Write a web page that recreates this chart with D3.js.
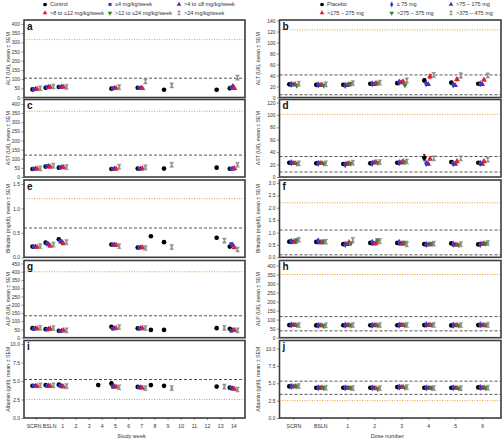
<!DOCTYPE html>
<html><head><meta charset="utf-8">
<script src="https://cdn.jsdelivr.net/npm/d3@7"></script>
<style>
body{margin:0;background:#fff;}
svg{display:block;font-family:"Liberation Sans",Arial,sans-serif;}
</style>
</head><body>
<svg id="c" width="504" height="439"></svg>
<script>
const _ = null;
// ---------- categories & series ----------
const weekCats = ["SCRN","BSLN","1","2","3","4","5","6","7","8","9","10","11","12","13","14"];
const doseCats = ["SCRN","BSLN","1","2","3","4","5","6"];
const weekSeries = ["Control","≤4 mg/kg/week",">4 to ≤8 mg/kg/week",">8 to ≤12 mg/kg/week",">12 to ≤24 mg/kg/week",">24 mg/kg/week"];
const doseSeries = ["Placebo","≤ 75 mg",">75 – 175 mg",">175 – 275 mg",">275 – 375 mg",">375 – 475 mg"];
const seriesColors = ["#000000","#3040d0","#5b2a9e","#e0202a","#2a8a2a","#8f8f8f"];

// ---------- left column (study week) ----------
const altWeekMean = [
  [44,53,57,_,_,_,48,_,53,_,42,_,_,_,42,50],
  [45,57,58,_,_,_,50,_,52,_,_,_,_,_,_,55],
  [45,56,58,_,_,_,50,_,51,_,_,_,_,_,_,60],
  [46,55,57,_,_,_,50,_,50,_,_,_,_,_,_,50],
  [_,_,_,_,_,_,_,_,_,_,_,_,_,_,_,_],
  [50,60,58,_,_,_,56,_,88,_,66,_,_,_,_,108]];
const altWeekSem = [
  [1,2,2,_,_,_,2,_,2,_,2,_,_,_,2,3],
  [1,2,2,_,_,_,2,_,2,_,_,_,_,_,_,4],
  [1,2,2,_,_,_,2,_,2,_,_,_,_,_,_,6],
  [1,2,2,_,_,_,2,_,2,_,_,_,_,_,_,3],
  [_,_,_,_,_,_,_,_,_,_,_,_,_,_,_,_],
  [2,2,2,_,_,_,3,_,9,_,4,_,_,_,_,11]];
const astWeekMean = [
  [44,57,51,_,_,_,44,_,46,_,46,_,_,_,51,45],
  [45,60,53,_,_,_,45,_,45,_,_,_,_,_,_,46],
  [45,58,53,_,_,_,44,_,45,_,_,_,_,_,_,44],
  [45,55,52,_,_,_,45,_,46,_,_,_,_,_,_,47],
  [_,_,_,_,_,_,_,_,_,_,_,_,_,_,_,_],
  [47,62,54,_,_,_,57,_,53,_,67,_,_,_,_,67]];
const astWeekSem = [
  [1,2,2,_,_,_,2,_,2,_,2,_,_,_,2,2],
  [1,2,2,_,_,_,2,_,2,_,_,_,_,_,_,2],
  [1,2,2,_,_,_,2,_,2,_,_,_,_,_,_,2],
  [1,2,2,_,_,_,2,_,2,_,_,_,_,_,_,2],
  [_,_,_,_,_,_,_,_,_,_,_,_,_,_,_,_],
  [2,2,2,_,_,_,3,_,3,_,6,_,_,_,_,5]];
const biliWeekMean = [
  [0.22,0.30,0.37,_,_,_,0.26,_,0.20,0.43,0.31,_,_,_,0.40,0.22],
  [0.22,0.28,0.33,_,_,_,0.26,_,0.20,_,_,_,_,_,_,0.27],
  [0.21,0.26,0.31,_,_,_,0.25,_,0.20,_,_,_,_,_,_,0.24],
  [0.21,0.23,0.28,_,_,_,0.25,_,0.20,_,_,_,_,_,_,0.20],
  [_,_,_,_,_,_,_,_,_,_,_,_,_,_,_,_],
  [0.23,0.26,0.31,_,_,_,0.23,_,0.19,_,0.21,_,_,_,0.34,0.16]];
const biliWeekSem = [
  [0.01,0.01,0.02,_,_,_,0.01,_,0.01,0.02,0.02,_,_,_,0.02,0.01],
  [0.01,0.01,0.02,_,_,_,0.01,_,0.01,_,_,_,_,_,_,0.02],
  [0.01,0.01,0.02,_,_,_,0.01,_,0.01,_,_,_,_,_,_,0.02],
  [0.01,0.01,0.02,_,_,_,0.01,_,0.01,_,_,_,_,_,_,0.02],
  [_,_,_,_,_,_,_,_,_,_,_,_,_,_,_,_],
  [0.01,0.01,0.02,_,_,_,0.01,_,0.01,_,0.02,_,_,_,0.02,0.02]];
const alpWeekMean = [
  [58,52,42,_,_,_,66,_,57,47,47,_,_,_,58,54],
  [53,50,40,_,_,_,55,_,55,_,_,_,_,_,_,42],
  [55,52,42,_,_,_,55,_,56,_,_,_,_,_,_,45],
  [55,53,45,_,_,_,57,_,57,_,_,_,_,_,_,46],
  [_,_,_,_,_,_,_,_,_,_,_,_,_,_,_,_],
  [60,58,45,_,_,_,65,_,58,_,_,_,_,_,60,44]];
const alpWeekSem = [
  [2,2,2,_,_,_,2,_,2,2,2,_,_,_,3,2],
  [2,2,2,_,_,_,2,_,2,_,_,_,_,_,_,3],
  [2,2,2,_,_,_,2,_,2,_,_,_,_,_,_,3],
  [2,2,2,_,_,_,2,_,2,_,_,_,_,_,_,3],
  [_,_,_,_,_,_,_,_,_,_,_,_,_,_,_,_],
  [2,2,2,_,_,_,2,_,2,_,_,_,_,_,4,3]];
const albWeekMean = [
  [4.35,4.45,4.5,_,_,4.45,4.65,_,4.2,4.45,4.35,_,_,_,4.25,4.1],
  [4.35,4.35,4.35,_,_,_,4.25,_,4.15,_,_,_,_,_,_,4.05],
  [4.3,4.35,4.3,_,_,_,4.2,_,4.1,_,_,_,_,_,_,3.95],
  [4.3,4.3,4.2,_,_,_,4.2,_,4.05,_,_,_,_,_,_,3.9],
  [_,_,_,_,_,_,_,_,_,_,_,_,_,_,_,_],
  [4.4,4.4,4.3,_,_,_,4.15,_,4.05,_,4.05,_,_,_,4.25,3.85]];
const albWeekSem = [
  [0.05,0.05,0.05,_,_,0.05,0.3,_,0.05,0.05,0.05,_,_,_,0.05,0.05],
  [0.05,0.05,0.05,_,_,_,0.05,_,0.05,_,_,_,_,_,_,0.05],
  [0.05,0.05,0.05,_,_,_,0.05,_,0.05,_,_,_,_,_,_,0.05],
  [0.05,0.05,0.05,_,_,_,0.05,_,0.05,_,_,_,_,_,_,0.05],
  [_,_,_,_,_,_,_,_,_,_,_,_,_,_,_,_],
  [0.05,0.05,0.05,_,_,_,0.05,_,0.05,_,0.08,_,_,_,0.08,0.05]];

// ---------- right column (dose number) ----------
const altDoseMean = [
  [24,23,23,25,26,31,27,25],
  [24,23,22,25,28,25,23,25],
  [23,22,22,24,27,24,22,24],
  [24,23,24,26,29,38,33,32],
  [22,22,25,26,23,_,_,_],
  [25,24,26,27,31,41,40,40]];
const altDoseSem = [
  [1,1,1,1,1,3,2,1],
  [1,1,1,1,1,1,1,1],
  [1,1,1,1,1,1,1,1],
  [1,1,1,1,2,4,3,2],
  [1,1,1,1,1,_,_,_],
  [1,1,1,1,2,4,5,4]];
const astDoseMean = [
  [23,22,21,22,23,31,24,23],
  [23,22,20,22,23,22,22,22],
  [22,22,21,23,23,21,21,21],
  [22,22,22,24,25,29,25,25],
  [22,22,22,23,24,_,_,_],
  [22,22,23,24,25,30,30,28]];
const astDoseSem = [
  [1,1,1,1,1,5,1,1],
  [1,1,1,1,1,1,1,1],
  [1,1,1,1,1,1,1,1],
  [1,1,1,1,1,2,2,2],
  [1,1,1,1,1,_,_,_],
  [1,1,1,1,2,2,3,3]];
const biliDoseMean = [
  [0.63,0.62,0.53,0.58,0.58,0.53,0.56,0.52],
  [0.64,0.66,0.52,0.60,0.60,0.52,0.53,0.52],
  [0.62,0.60,0.52,0.55,0.55,0.50,0.50,0.53],
  [0.62,0.60,0.60,0.58,0.55,0.52,0.50,0.55],
  [0.70,0.65,0.57,0.70,0.60,0.55,0.50,0.56],
  [0.70,0.63,0.70,0.65,0.52,0.55,0.53,0.58]];
const biliDoseSem = [
  [0.02,0.02,0.02,0.02,0.02,0.02,0.02,0.02],
  [0.02,0.04,0.02,0.02,0.02,0.02,0.02,0.02],
  [0.02,0.02,0.02,0.02,0.02,0.02,0.02,0.02],
  [0.02,0.02,0.03,0.02,0.02,0.02,0.02,0.02],
  [0.03,0.03,0.03,0.03,0.03,0.03,0.03,0.03],
  [0.03,0.03,0.04,0.03,0.03,0.03,0.03,0.03]];
const alpDoseMean = [
  [70,68,69,69,69,70,68,70],
  [71,68,70,69,70,72,70,72],
  [69,67,68,68,69,69,67,68],
  [70,67,70,70,70,71,70,70],
  [71,66,69,69,70,72,68,71],
  [70,68,70,70,71,71,70,71]];
const alpDoseSem = [
  [2,2,2,2,2,2,2,2],[2,2,2,2,2,2,2,2],[2,2,2,2,2,2,2,2],
  [2,2,2,2,2,2,2,2],[2,2,2,2,2,2,2,2],[2,2,2,2,2,2,2,2]];
const albDoseMean = [
  [4.55,4.35,4.35,4.35,4.45,4.35,4.35,4.4],
  [4.55,4.35,4.35,4.35,4.45,4.35,4.35,4.4],
  [4.5,4.3,4.3,4.3,4.4,4.3,4.3,4.3],
  [4.55,4.35,4.3,4.25,4.45,4.3,4.3,4.35],
  [4.6,4.35,4.35,4.2,4.4,4.35,4.3,4.35],
  [4.6,4.35,4.3,4.3,4.45,4.3,4.3,4.35]];
const albDoseSem = [
  [0.05,0.05,0.05,0.05,0.05,0.05,0.05,0.05],[0.05,0.05,0.05,0.05,0.05,0.05,0.05,0.05],
  [0.05,0.05,0.05,0.05,0.05,0.05,0.05,0.05],[0.05,0.05,0.05,0.05,0.05,0.05,0.05,0.05],
  [0.05,0.05,0.05,0.05,0.05,0.05,0.05,0.05],[0.05,0.05,0.05,0.05,0.05,0.05,0.05,0.05]];

// ---------- axis ticks & reference lines ----------
const altWeekTicks = [0,50,100,150,200,250,300,350,400];
const astWeekTicks = [0,50,100,150,200,250,300,350,400];
const biliWeekTicks = [0,0.5,1.0,1.5];
const alpWeekTicks = [0,50,100,150,200,250,300,350,400,450];
const albWeekTicks = [0,2.5,5.0,7.5,10.0];
const altDoseTicks = [0,20,40,60,80,100,120,140];
const astDoseTicks = [0,20,40,60,80,100,120];
const biliDoseTicks = [0,0.5,1.0,1.5,2.0,2.5,3.0];
const alpDoseTicks = [0,50,100,150,200,250,300,350,400];
const albDoseTicks = [0,2.5,5.0,7.5,10.0];

// dashed = normal range limits, dotted = alert threshold
const altWeekRefs = {dashed:[105], dotted:[315]};
const astWeekRefs = {dashed:[120], dotted:[360]};
const biliWeekRefs = {dashed:[0.6], dotted:[1.2]};
const alpWeekRefs = {dashed:[133], dotted:[400]};
const albWeekRefs = {dashed:[5.2], dotted:[2.5]};
const altDoseRefs = {dashed:[41,5], dotted:[123]};
const astDoseRefs = {dashed:[33,8], dotted:[101]};
const biliDoseRefs = {dashed:[1.1,0.1], dotted:[2.2]};
const alpDoseRefs = {dashed:[117,38], dotted:[350]};
const albDoseRefs = {dashed:[5.3,3.4], dotted:[2.5]};

// ---------- drawing ----------
const svg = d3.select("#c");
const FRAME = "#3d3d3d";
const weekShapes = ["circle","square","tri","tri","triDown","hour"];
const doseShapes = ["circle","diamond","tri","tri","triDown","hour"];

function marker(sel, shape, color){
  if (shape === "hour") {
    sel.append("path").attr("d","M-2,-2.6H2L-2,2.6H2Z").attr("fill",color).attr("stroke",color).attr("stroke-width",0.4);
    return;
  }
  const map = {circle:[d3.symbolCircle,17], square:[d3.symbolSquare,15], tri:[d3.symbolTriangle,15],
               triDown:[d3.symbolTriangle,15], diamond:[d3.symbolDiamond,15]};
  const [t,s] = map[shape];
  const p = sel.append("path").attr("d", d3.symbol().type(t).size(s)()).attr("fill", color);
  if (shape === "triDown") p.attr("transform","rotate(180)");
}

const rowTops = [20, 99.5, 180, 260.5, 340.5];
const rowBottoms = [97.5, 177, 257.3, 337.7, 418];

const columns = [
  {cats:weekCats, series:weekSeries, shapes:weekShapes, fx0:24, fx1:245, px0:36, px1:233.3, offs:[-3.5,4.2], titleX:8, firstDx:-2.5,
   panels:[
    {m:altWeekMean,s:altWeekSem,t:altWeekTicks,r:altWeekRefs,pad:4,f:d3.format("d"),L:"a",T:"ALT (U/l), mean ± SEM"},
    {m:astWeekMean,s:astWeekSem,t:astWeekTicks,r:astWeekRefs,pad:4.5,f:d3.format("d"),L:"c",T:"AST (U/l), mean ± SEM"},
    {m:biliWeekMean,s:biliWeekSem,t:biliWeekTicks,r:biliWeekRefs,pad:4,f:d3.format(".1f"),L:"e",T:"Bilirubin (mg/dl), mean ± SEM"},
    {m:alpWeekMean,s:alpWeekSem,t:alpWeekTicks,r:alpWeekRefs,pad:3,f:d3.format("d"),L:"g",T:"ALP (U/l), mean ± SEM"},
    {m:albWeekMean,s:albWeekSem,t:albWeekTicks,r:albWeekRefs,pad:3.5,f:d3.format(".1f"),L:"i",T:"Albumin (g/dl), mean ± SEM"}],
   xTitle:"Study week"},
  {cats:doseCats, series:doseSeries, shapes:doseShapes, fx0:279.5, fx1:501, px0:293.3, px1:482.3, offs:[-4,5.5], titleX:258, firstDx:0,
   panels:[
    {m:altDoseMean,s:altDoseSem,t:altDoseTicks,r:altDoseRefs,pad:0.5,f:d3.format("d"),L:"b",T:"ALT (U/l), mean ± SEM"},
    {m:astDoseMean,s:astDoseSem,t:astDoseTicks,r:astDoseRefs,pad:3,f:d3.format("d"),L:"d",T:"AST (U/l), mean ± SEM"},
    {m:biliDoseMean,s:biliDoseSem,t:biliDoseTicks,r:biliDoseRefs,pad:3,f:d3.format(".1f"),L:"f",T:"Bilirubin (mg/dl), mean ± SEM"},
    {m:alpDoseMean,s:alpDoseSem,t:alpDoseTicks,r:alpDoseRefs,pad:5,f:d3.format("d"),L:"h",T:"ALP (U/l), mean ± SEM"},
    {m:albDoseMean,s:albDoseSem,t:albDoseTicks,r:albDoseRefs,pad:8,f:d3.format(".1f"),L:"j",T:"Albumin (g/dl), mean ± SEM"}],
   xTitle:"Dose number"}
];

columns.forEach(col => {
  const x = d3.scalePoint().domain(col.cats).range([col.px0, col.px1]);
  const off = d3.scalePoint().domain(d3.range(col.series.length)).range(col.offs);
  col.panels.forEach((p, i) => {
    const top = rowTops[i], bot = rowBottoms[i];
    const y = d3.scaleLinear().domain([0, d3.max(p.t)]).range([bot, top + p.pad]);
    const g = svg.append("g");
    g.append("rect").attr("x",col.fx0).attr("y",top).attr("width",col.fx1-col.fx0).attr("height",bot-top)
      .attr("fill","#fff");
    // reference lines
    p.r.dashed.forEach(v => g.append("line").attr("x1",col.fx0).attr("x2",col.fx1).attr("y1",y(v)).attr("y2",y(v))
      .attr("stroke","#555").attr("stroke-width",1).attr("stroke-dasharray","3,2"));
    p.r.dotted.forEach(v => g.append("line").attr("x1",col.fx0).attr("x2",col.fx1).attr("y1",y(v)).attr("y2",y(v))
      .attr("stroke","#e89a3c").attr("stroke-width",1).attr("stroke-dasharray","1,1.5"));
    // points with error bars
    p.m.forEach((arr, si) => {
      const color = seriesColors[si];
      arr.forEach((v, ci) => {
        if (v === null) return;
        const cx = x(col.cats[ci]) + off(si);
        const sem = p.s[si][ci];
        if (sem) {
          const y1 = y(v - sem), y2 = y(v + sem);
          g.append("path").attr("d",`M${cx},${y1}V${y2}M${cx-1.3},${y1}H${cx+1.3}M${cx-1.3},${y2}H${cx+1.3}`)
            .attr("stroke",color).attr("stroke-width",0.8).attr("fill","none");
        }
        const mg = g.append("g").attr("transform",`translate(${cx},${y(v)})`);
        marker(mg, col.shapes[si], color);
      });
    });
    // frame
    g.append("rect").attr("x",col.fx0).attr("y",top).attr("width",col.fx1-col.fx0).attr("height",bot-top)
      .attr("fill","none").attr("stroke",FRAME).attr("stroke-width",1.6);
    // y axis
    const ax = g.append("g").attr("transform",`translate(${col.fx0},0)`)
      .call(d3.axisLeft(y).tickValues(p.t).tickFormat(p.f).tickSize(2.5).tickPadding(1.5));
    ax.select(".domain").remove();
    ax.selectAll("line").attr("stroke","#444").attr("stroke-width",0.6);
    ax.selectAll("text").attr("font-size",5).attr("fill","#333").attr("font-family",null);
    // panel letter
    g.append("text").attr("x",col.fx0+3).attr("y",top+9.5).attr("font-size",10).attr("font-weight","bold")
      .attr("fill","#111").text(p.L);
    // y title
    g.append("text").attr("transform",`translate(${col.titleX},${(top+bot)/2}) rotate(-90)`)
      .attr("text-anchor","middle").attr("dy","0.35em").attr("font-size",5.2).attr("fill","#333").text(p.T);
    // x axis on bottom panel
    if (i === col.panels.length - 1) {
      const xa = g.append("g").attr("transform",`translate(0,${bot})`)
        .call(d3.axisBottom(x).tickSize(2).tickPadding(4));
      xa.select(".domain").remove();
      xa.selectAll("line").attr("stroke","#444").attr("stroke-width",0.6);
      xa.selectAll("text").attr("font-size",5.2).attr("fill","#333").attr("font-family",null)
        .attr("dx",(d, k) => k === 0 ? col.firstDx : 0);
      g.append("text").attr("x",(col.fx0+col.fx1)/2-3).attr("y",437.5).attr("text-anchor","middle")
        .attr("font-size",5.5).attr("fill","#333").text(col.xTitle);
    }
  });
});

// ---------- legends ----------
const legendCfg = [
  {series:weekSeries, shapes:weekShapes, xs:[45,110,179], ys:[4.5,13]},
  {series:doseSeries, shapes:doseShapes, xs:[322,391.7,451], ys:[4.5,13]}
];
legendCfg.forEach(L => {
  L.series.forEach((name, k) => {
    const cx = L.xs[k % 3], cy = L.ys[Math.floor(k / 3)];
    const g = svg.append("g").attr("transform",`translate(${cx},${cy})`);
    const mg = g.append("g").attr("transform","scale(0.8)");
    marker(mg, L.shapes[k], seriesColors[k]);
    g.append("text").attr("x",5).attr("dy","0.35em").attr("font-size",5.5).attr("fill","#333").text(name);
  });
});
</script>
</body></html>
